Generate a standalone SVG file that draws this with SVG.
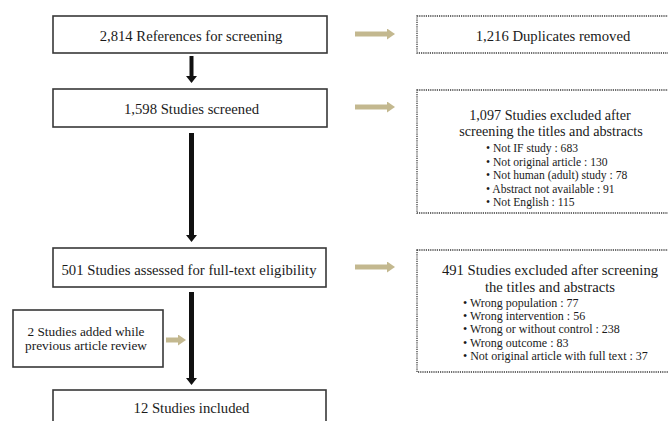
<svg xmlns="http://www.w3.org/2000/svg" width="668" height="421" viewBox="0 0 668 421">
<defs>
<style>
.box{fill:#fff;stroke:#383838;stroke-width:1.6}
.dbox{fill:#fff;stroke:#3a3a3a;stroke-width:1.3;stroke-dasharray:1.2 1}
text{font-family:"Liberation Serif","Times New Roman",serif;fill:#1a1a1a}
.m{font-size:14.7px;text-anchor:middle}
.t{font-size:14.2px;text-anchor:middle}
.s{font-size:13.3px;text-anchor:middle}
.b1{font-size:11.6px}
.b2{font-size:12px}
.blk{stroke:#111;fill:none}
.tan{stroke:#c3b88f;stroke-width:5;fill:none}
</style>
<marker id="hb" viewBox="0 0 7 11" refX="0" refY="5.5" markerWidth="7" markerHeight="11" markerUnits="userSpaceOnUse" orient="auto"><path d="M0,0 L7,5.5 L0,11 z" fill="#111"/></marker>
<marker id="ht" viewBox="0 0 8 11" refX="0" refY="5.5" markerWidth="8" markerHeight="11" markerUnits="userSpaceOnUse" orient="auto"><path d="M0,0 L8,5.5 L0,11 z" fill="#c3b88f"/></marker>
</defs>
<rect width="668" height="421" fill="#fff"/>
<g id="n1"><rect class="box" x="53" y="16" width="274" height="37"/><text class="m" x="191" y="40.5">2,814 References for screening</text></g>
<g id="n2"><rect class="box" x="53" y="89" width="274" height="38"/><text class="m" x="191.5" y="113.5">1,598 Studies screened</text></g>
<g id="n3"><rect class="box" x="53" y="248" width="273" height="39"/><text class="m" x="189" y="275">501 Studies assessed for full-text eligibility</text></g>
<g id="n4"><rect class="box" x="53" y="390" width="273" height="40"/><text class="m" x="191.5" y="413">12 Studies included</text></g>
<g id="n5"><rect class="box" x="13" y="310" width="150" height="57"/><text class="s" x="86" y="336">2 Studies added while</text><text class="s" x="86" y="350">previous article review</text></g>
<g id="e1"><rect class="dbox" x="417" y="16" width="280" height="37"/><text class="m" x="553" y="40.5">1,216 Duplicates removed</text></g>
<g id="e2"><rect class="dbox" x="417" y="90" width="280" height="123"/>
<text class="t" x="550" y="120">1,097 Studies excluded after</text>
<text class="t" x="551" y="135.8">screening the titles and abstracts</text>
<text class="b1" x="486"><tspan x="486" y="152">• Not IF study : 683</tspan><tspan x="486" y="165.5">• Not original article : 130</tspan><tspan x="486" y="179">• Not human (adult) study : 78</tspan><tspan x="486" y="192.5">• Abstract not available : 91</tspan><tspan x="486" y="206">• Not English : 115</tspan></text></g>
<g id="e3"><rect class="dbox" x="417" y="250" width="280" height="122"/>
<text class="m" x="550" y="274.5">491 Studies excluded after screening</text>
<text class="m" x="550" y="291.5">the titles and abstracts</text>
<text class="b2" x="463"><tspan x="463" y="306.5">• Wrong population : 77</tspan><tspan x="463" y="320">• Wrong intervention : 56</tspan><tspan x="463" y="333">• Wrong or without control : 238</tspan><tspan x="463" y="346.5">• Wrong outcome : 83</tspan><tspan x="463" y="359.5">• Not original article with full text : 37</tspan></text></g>
<g id="connectors">
<line class="blk" x1="191.5" y1="56" x2="191.5" y2="76" stroke-width="4" marker-end="url(#hb)"/>
<line class="blk" x1="191.5" y1="133" x2="191.5" y2="235" stroke-width="5" marker-end="url(#hb)"/>
<line class="blk" x1="191.5" y1="292" x2="191.5" y2="378" stroke-width="5" marker-end="url(#hb)"/>
<line class="tan" x1="355" y1="34" x2="387" y2="34" marker-end="url(#ht)"/>
<line class="tan" x1="355" y1="107" x2="387" y2="107" marker-end="url(#ht)"/>
<line class="tan" x1="355" y1="267" x2="387" y2="267" marker-end="url(#ht)"/>
<line class="tan" x1="166" y1="340" x2="178" y2="340" marker-end="url(#ht)"/>
</g>
</svg>
